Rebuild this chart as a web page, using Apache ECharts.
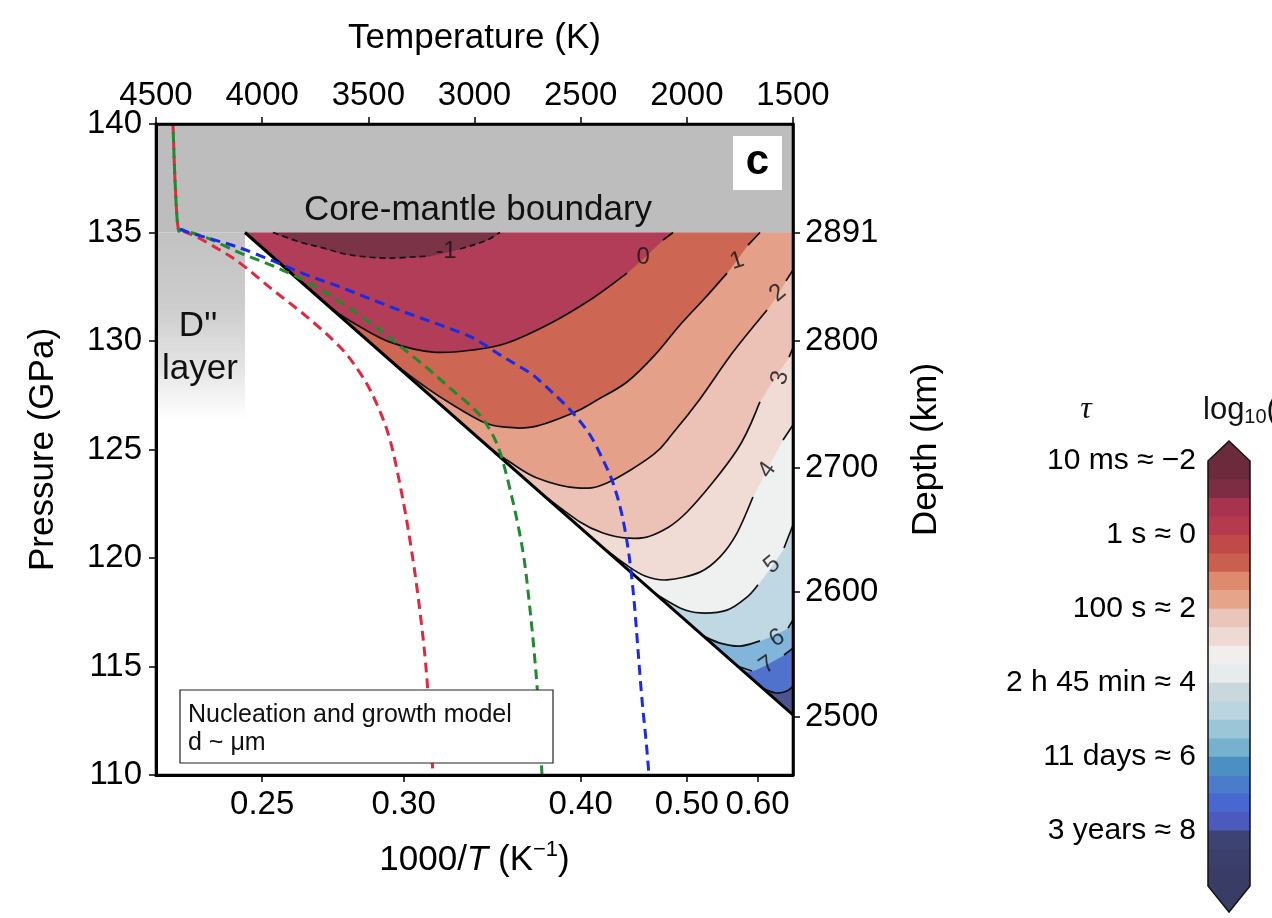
<!DOCTYPE html>
<html>
<head>
<meta charset="utf-8">
<script src="https://cdn.jsdelivr.net/npm/echarts@6/dist/echarts.min.js"></script>
<style>
  html, body { margin: 0; padding: 0; background: #ffffff; }
  #chart { width: 1272px; height: 918px; }
</style>
</head>
<body>
<div id="chart"></div>
<script>
// ---------------- axis ticks ----------------
const tempTicks = [4500, 4000, 3500, 3000, 2500, 2000, 1500];        // K, top axis
const invTempTicks = [0.25, 0.30, 0.40, 0.50, 0.60];                  // 1000/T, bottom axis
const depthTicks = [2891, 2800, 2700, 2600, 2500];                    // km, right axis
const depthTickPressure = [135, 130, 124.15, 118.43, 112.67];         // GPa at those depths
const cbTickValues = [-2, 0, 2, 4, 6, 8];
const cbTickLabels = ['10 ms \u2248 \u22122', '1 s \u2248 0', '100 s \u2248 2',
                      '2 h 45 min \u2248 4', '11 days \u2248 6', '3 years \u2248 8'];

// ---------------- regions (T in K, P in GPa) ----------------
const cmbPressure = 135;
const plotFrame = [[4500, 140], [1500, 140], [1500, 110], [4500, 110]];
const cmbRegion = [[4500, 140], [1500, 140], [1500, 135], [4500, 135]];
const dppRegion = [[4500, 135], [4081, 135], [4081, 126.4], [4500, 126.4]];
const diagonal = [[4081, 135], [1500, 112.77]];

// ---------------- log10(tau) contours (null = label gap) ----------------
const contourM1 = [[3949, 135], [3822, 134.56], [3714, 134.29], [3610, 134.01], [3506, 133.87],
  [3398, 133.82], [3290, 133.87], [3210, 133.92], null, [3068, 134.24], [3007, 134.42], [2941, 134.65], [2880, 135]];
const contour0 = [[3774.7, 132.34], [3657, 131.38], [3553.4, 130.74], [3398, 129.95], [3195.4, 129.49],
  [3007.1, 129.59], [2846.9, 129.91], [2630.3, 130.88], [2441.9, 131.98], [2281.8, 133.13], null,
  [2112.2, 134.65], [2065.1, 135]];
const contour1 = [[3374.4, 128.92], [3223.7, 127.83], [3101.3, 127.05], [2960, 126.27], [2865.8, 126.04],
  [2724.5, 126.04], [2536.1, 126.68], [2423.1, 127.28], [2281.8, 128.11], [2149.9, 129.36], [2032.2, 130.74],
  [1914.4, 131.98], [1810.8, 133.13], null, [1711.9, 134.42], [1655.4, 135]];
const contour2 = [[2941.1, 125.16], [2832.8, 124.42], [2705.6, 123.69], [2517.3, 123.23], [2376, 123.46],
  [2159.3, 124.75], [2065.1, 125.76], [1938, 127.33], [1782.6, 129.49], [1622.4, 131.43], null,
  [1533, 132.77], [1500, 133.27]];
const contour3 = [[2691.5, 123.02], [2503.1, 121.66], [2394.8, 121.15], [2281.8, 120.92], [2159.3, 121.06],
  [1999.2, 122.12], [1763.7, 124.98], [1655.4, 127.19], null, [1518.8, 129.26], [1500, 129.68]];
const contour4 = [[2408.9, 120.59], [2291.2, 119.72], [2197, 119.17], [2093.4, 118.99], [1938, 119.35],
  [1843.8, 120.05], [1763.7, 121.15], [1688.4, 122.81], null, [1547.1, 125.44], [1500, 126.13]];
const contour5 = [[2149.9, 118.36], [2032.2, 117.7], [1938, 117.47], [1810.8, 117.6], [1716.6, 118.2],
  [1664.8, 118.76], null, [1542.4, 120.46], [1500, 121.52]];
const contour6 = [[1923.8, 116.41], [1843.8, 116.08], [1749.6, 115.94], [1655.4, 116.18], null,
  [1523.6, 116.77], [1500, 117.14]];
const contour7 = [[1763.7, 115.02], [1693.1, 114.79], null, [1542.4, 115.53], [1500, 115.85]];
const contour8 = [[1641.3, 113.98], [1580.1, 113.78], [1528.2, 113.87], [1500, 114.1]];
const contourLevels = [-1, 0, 1, 2, 3, 4, 5, 6, 7, 8];

const contourLabelText = ['-1', '0', '1', '2', '3', '4', '5', '6', '7'];
const contourLabelPos = [[3134, 134.15], [2206, 133.87], [1764, 133.69], [1571, 132.21], [1561, 128.3],
  [1622, 124.06], [1599, 119.68], [1575, 116.3], [1622, 115.07]];
const contourLabelAngle = [0, 0, 18, 40, 75, 55, 40, 30, 35];

// ---------------- phase-boundary paths (dashed) ----------------
const redPath = [[4420, 140], [4410.5, 137.42], [4396.4, 135.25], [4372.8, 135.07], [4306.9, 134.79],
  [4198.6, 134.19], [4104.4, 133.59], [3949, 132.35], [3788.9, 131.11], [3633.4, 129.72], [3539.2, 128.53],
  [3468.6, 127.28], [3398, 125.44], [3336.8, 122.67], [3289.6, 119.91], [3252, 117.14], [3223.7, 114.38],
  [3195.4, 110]];
const greenPath = [[4420, 140], [4410.5, 137.42], [4396.4, 135.25], [4372.8, 135.11], [4259.8, 134.75],
  [4104.4, 134.06], [3949, 133.46], [3788.9, 132.72], [3633.4, 131.8], [3478, 130.74], [3350.9, 129.77],
  [3223.7, 128.76], [3115.4, 127.83], [3007.1, 126.91], [2941.1, 126.13], [2879.9, 124.88], [2818.7, 122.58],
  [2771.6, 120.28], [2743.3, 118.06], [2719.8, 115.76], [2700.9, 113.46], [2682.1, 110]];
const bluePath = [[4387, 135.16], [4339.9, 134.98], [4222.1, 134.65], [4104.4, 134.29], [3949, 133.69],
  [3788.9, 133.04], [3633.4, 132.49], [3478, 131.89], [3317.9, 131.29], [3162.5, 130.74], [3007.1, 130.14],
  [2879.9, 129.36], [2799.8, 128.89], [2724.5, 128.43], [2630.3, 127.6], [2536.1, 126.68], [2456, 125.67],
  [2394.8, 124.52], [2347.7, 123.46], [2305.3, 121.98], [2272.4, 120.14], [2248.8, 118.06], [2230, 115.76],
  [2211.1, 113.46], [2192.3, 111.61], [2178.2, 110]];

// ---------------- colour scale ----------------
const cbBounds = [-2, -1.5, -1, -0.5, 0, 0.5, 1, 1.5, 2, 2.5, 3, 3.5, 4, 4.5, 5, 5.5, 6, 6.5, 7, 7.5, 8, 8.5, 9, 9.5];
const cbColors = ['#6b2b3d', '#7c2d43', '#a8334e', '#b63a4d', '#c04a48', '#c9604f', '#de8a6c', '#e6a58b',
  '#eac5b9', '#efd9d3', '#f3eeee', '#e6ebee', '#c8d8dd', '#bad5df', '#9ac6d8', '#77b1d0', '#4b90c3',
  '#4a7ccc', '#4868cf', '#4a5bbd', '#3d4373', '#3a3f6b', '#393d66'];
// fill of each band: below -1, -1..0, 0..1, ..., 7..8, above 8
const bandColors = ['#7b3348', '#b23d58', '#cd6652', '#e4a088', '#ebc2b5', '#f1dcd5', '#eff1f1',
  '#bfd8e4', '#82b5da', '#5072cc', '#4c5590'];

const FONT = '"Liberation Sans", Arial, Helvetica, sans-serif';
const SERIF = '"Liberation Serif", "DejaVu Serif", serif';
const contours = [contourM1, contour0, contour1, contour2, contour3, contour4, contour5, contour6, contour7, contour8];

// ---------------- helpers ----------------
function solid(c) { return c.filter(p => p !== null); }
function segments(c) {
  const out = []; let cur = [];
  c.forEach(p => { if (p === null) { if (cur.length) out.push(cur); cur = []; } else cur.push(p); });
  if (cur.length) out.push(cur);
  return out;
}
// Catmull-Rom spline through pixel points, as SVG path data
function splinePath(px) {
  let d = 'M' + px[0][0] + ' ' + px[0][1];
  if (px.length === 2) return d + 'L' + px[1][0] + ' ' + px[1][1];
  for (let i = 0; i < px.length - 1; i++) {
    const p0 = px[i - 1] || px[i], p1 = px[i], p2 = px[i + 1], p3 = px[i + 2] || px[i + 1];
    const c1 = [p1[0] + (p2[0] - p0[0]) / 6, p1[1] + (p2[1] - p0[1]) / 6];
    const c2 = [p2[0] - (p3[0] - p1[0]) / 6, p2[1] - (p3[1] - p1[1]) / 6];
    d += 'C' + c1[0] + ' ' + c1[1] + ' ' + c2[0] + ' ' + c2[1] + ' ' + p2[0] + ' ' + p2[1];
  }
  return d;
}
function polyPath(px) {
  return 'M' + px.map(p => p[0] + ' ' + p[1]).join('L') + 'Z';
}

// filled bands, painted from the outermost region inwards
const fillLayers = [{ curve: [], edge: [[diagonal[0][0], cmbPressure], [1500, cmbPressure], diagonal[1]], color: bandColors[10] }];
for (let k = contours.length - 1; k >= 0; k--) {
  const pts = solid(contours[k]);
  const first = pts[0], last = pts[pts.length - 1];
  const edge = [];
  if (last[0] === 1500) edge.push([1500, cmbPressure]);
  if (first[1] !== cmbPressure) edge.push([diagonal[0][0], cmbPressure]);
  fillLayers.push({ curve: pts, edge: edge, color: bandColors[k] });
}

// contour line pieces
const lineItems = [];
contours.forEach((c, k) => segments(c).forEach(s => lineItems.push({ pts: s, dashed: contourLevels[k] < 0 })));

const dashedItems = [
  { pts: redPath, color: '#e2283f', offset: 0 },
  { pts: greenPath, color: '#1f8a2e', offset: 8 },
  { pts: bluePath, color: '#1a2be6', offset: 0 }
];

const chart = echarts.init(document.getElementById('chart'), null, { renderer: 'canvas' });

const axisText = { color: '#000', fontFamily: FONT, fontSize: 33 };
const nameText = { color: '#000', fontFamily: FONT, fontSize: 35 };
const bottomTickT = invTempTicks.map(v => 1000 / v);

const option = {
  animation: false,
  backgroundColor: '#ffffff',
  grid: [
    { left: 156, top: 124, width: 637, height: 651, containLabel: false },
    { left: 1208, top: 461, width: 42, height: 425, containLabel: false }
  ],
  xAxis: [
    {
      gridIndex: 0, type: 'value', min: 1500, max: 4500, inverse: true, position: 'bottom', z: 10,
      axisLine: { show: true, onZero: false, lineStyle: { color: '#000', width: 3 } },
      axisTick: { show: true, inside: false, length: 7, customValues: bottomTickT, lineStyle: { color: '#000', width: 1.5 } },
      axisLabel: Object.assign({ customValues: bottomTickT, margin: 13, formatter: v => (1000 / v).toFixed(2) }, axisText),
      splitLine: { show: false },
      name: '1000/{it|T} (K{sup|\u22121})', nameLocation: 'middle', nameGap: 64,
      nameTextStyle: Object.assign({
        rich: {
          it: { fontStyle: 'italic', fontFamily: FONT, fontSize: 35, color: '#000' },
          sup: { fontFamily: FONT, fontSize: 22, color: '#000', verticalAlign: 'top', padding: [0, 0, 20, 0] }
        }
      }, nameText)
    },
    {
      gridIndex: 0, type: 'value', min: 1500, max: 4500, inverse: true, position: 'top', z: 10,
      axisLine: { show: true, onZero: false, lineStyle: { color: '#000', width: 2.5 } },
      axisTick: { show: true, inside: false, length: 7, customValues: tempTicks, lineStyle: { color: '#000', width: 1.5 } },
      axisLabel: Object.assign({ customValues: tempTicks, margin: 12, formatter: v => String(Math.round(v)) }, axisText),
      splitLine: { show: false },
      name: 'Temperature (K)', nameLocation: 'middle', nameGap: 68, nameTextStyle: nameText
    },
    { gridIndex: 1, type: 'value', min: 0, max: 1, show: false }
  ],
  yAxis: [
    {
      gridIndex: 0, type: 'value', min: 110, max: 140, interval: 5, position: 'left', z: 10,
      axisLine: { show: true, onZero: false, lineStyle: { color: '#000', width: 3 } },
      axisTick: { show: true, inside: false, length: 7, lineStyle: { color: '#000', width: 1.5 } },
      axisLabel: Object.assign({ margin: 14 }, axisText),
      splitLine: { show: false },
      name: 'Pressure (GPa)', nameLocation: 'middle', nameGap: 95, nameTextStyle: nameText
    },
    {
      gridIndex: 0, type: 'value', min: 110, max: 140, position: 'right', z: 10,
      axisLine: { show: true, onZero: false, lineStyle: { color: '#000', width: 2.5 } },
      axisTick: { show: true, inside: false, length: 7, customValues: depthTickPressure, lineStyle: { color: '#000', width: 1.5 } },
      axisLabel: Object.assign({
        customValues: depthTickPressure, margin: 12,
        formatter: v => {
          let best = 0;
          depthTickPressure.forEach((p, i) => { if (Math.abs(p - v) < Math.abs(depthTickPressure[best] - v)) best = i; });
          return String(depthTicks[best]);
        }
      }, axisText),
      splitLine: { show: false },
      name: 'Depth (km)', nameLocation: 'middle', nameGap: 116, nameTextStyle: nameText
    },
    {
      gridIndex: 1, type: 'value', min: -2, max: 9.5, inverse: true, position: 'left',
      axisLine: { show: false }, axisTick: { show: false }, splitLine: { show: false },
      axisLabel: {
        customValues: cbTickValues, margin: 12, color: '#000', fontFamily: FONT, fontSize: 30,
        formatter: v => cbTickLabels[cbTickValues.indexOf(v)]
      }
    }
  ],
  series: [
    // colour-filled bands, core-mantle boundary and D'' shading
    {
      type: 'custom', coordinateSystem: 'cartesian2d', xAxisIndex: 0, yAxisIndex: 0, clip: true, silent: true, z: 1,
      data: fillLayers.map((_, i) => [i]).concat([[fillLayers.length], [fillLayers.length + 1]]),
      renderItem: (params, api) => {
        const i = params.dataIndex;
        if (i === fillLayers.length) {
          return { type: 'path', shape: { pathData: polyPath(cmbRegion.map(p => api.coord(p))) },
            style: { fill: '#bdbdbd', stroke: null } };
        }
        if (i === fillLayers.length + 1) {
          return { type: 'path', shape: { pathData: polyPath(dppRegion.map(p => api.coord(p))) },
            style: { stroke: null, fill: new echarts.graphic.LinearGradient(0, 0, 0, 1, [
              { offset: 0, color: '#c2c2c2' }, { offset: 0.4, color: '#cdcdcd' },
              { offset: 0.72, color: '#e4e4e4' }, { offset: 1, color: '#ffffff' }]) } };
        }
        const L = fillLayers[i];
        const cpx = L.curve.map(p => api.coord(p));
        const epx = L.edge.map(p => api.coord(p));
        const d = cpx.length
          ? splinePath(cpx) + epx.map(p => 'L' + p[0] + ' ' + p[1]).join('') + 'Z'
          : polyPath(epx);
        return { type: 'path', shape: { pathData: d }, style: { fill: L.color, stroke: L.color, lineWidth: 0.6 } };
      }
    },
    // contour lines
    {
      type: 'custom', coordinateSystem: 'cartesian2d', xAxisIndex: 0, yAxisIndex: 0, clip: true, silent: true, z: 3,
      data: lineItems.map((_, i) => [i]),
      renderItem: (params, api) => {
        const it = lineItems[params.dataIndex];
        return { type: 'path', shape: { pathData: splinePath(it.pts.map(p => api.coord(p))) },
          style: { fill: null, stroke: '#111', lineWidth: 1.7, lineDash: it.dashed ? [6, 4] : null } };
      }
    },
    // lower bound of the field
    {
      type: 'custom', coordinateSystem: 'cartesian2d', xAxisIndex: 0, yAxisIndex: 0, clip: true, silent: true, z: 4,
      data: [[0]],
      renderItem: (params, api) => {
        const a = api.coord(diagonal[0]), b = api.coord(diagonal[1]);
        return { type: 'line', shape: { x1: a[0], y1: a[1], x2: b[0], y2: b[1] },
          style: { stroke: '#000', lineWidth: 3 } };
      }
    },
    // dashed phase boundaries
    {
      type: 'custom', coordinateSystem: 'cartesian2d', xAxisIndex: 0, yAxisIndex: 0, clip: true, silent: true, z: 5,
      data: dashedItems.map((_, i) => [i]),
      renderItem: (params, api) => {
        const it = dashedItems[params.dataIndex];
        return { type: 'path', shape: { pathData: splinePath(it.pts.map(p => api.coord(p))) },
          style: { fill: null, stroke: it.color, lineWidth: 3, lineDash: [10, 6], lineDashOffset: it.offset } };
      }
    },
    // plot frame drawn above the shaded regions
    {
      type: 'custom', coordinateSystem: 'cartesian2d', xAxisIndex: 0, yAxisIndex: 0, clip: false, silent: true, z: 7,
      data: [[0]],
      renderItem: (params, api) => {
        const px = plotFrame.map(p => api.coord(p));
        return { type: 'path', shape: { pathData: polyPath(px) },
          style: { fill: null, stroke: '#000', lineWidth: 2.6 } };
      }
    },
    // contour labels
    {
      type: 'scatter', xAxisIndex: 0, yAxisIndex: 0, z: 6, silent: true, symbolSize: 1,
      itemStyle: { color: 'rgba(0,0,0,0)' },
      data: contourLabelPos.map((p, i) => ({ value: p, label: { rotate: contourLabelAngle[i] } })),
      label: { show: true, position: 'inside', color: '#111', fontFamily: FONT, fontSize: 24,
        formatter: p => contourLabelText[p.dataIndex] }
    },
    // colour bar
    {
      type: 'custom', coordinateSystem: 'cartesian2d', xAxisIndex: 2, yAxisIndex: 2, clip: false, silent: true, z: 2,
      data: cbColors.map((_, i) => [i]).concat([[cbColors.length]]),
      renderItem: (params, api) => {
        const i = params.dataIndex;
        if (i < cbColors.length) {
          const a = api.coord([0, cbBounds[i]]), b = api.coord([1, cbBounds[i + 1]]);
          const shapes = [{ type: 'rect', shape: { x: a[0], y: a[1], width: b[0] - a[0], height: b[1] - a[1] + 0.5 },
            style: { fill: cbColors[i] } }];
          if (i === 0) {
            shapes.push({ type: 'polygon', shape: { points: [[a[0], a[1] + 0.5], [(a[0] + b[0]) / 2, a[1] - 20], [b[0], a[1] + 0.5]] },
              style: { fill: cbColors[0] } });
          }
          if (i === cbColors.length - 1) {
            shapes.push({ type: 'polygon', shape: { points: [[a[0], b[1] - 0.5], [(a[0] + b[0]) / 2, b[1] + 26], [b[0], b[1] - 0.5]] },
              style: { fill: cbColors[i] } });
          }
          return { type: 'group', children: shapes };
        }
        const t = api.coord([0, cbBounds[0]]), r = api.coord([1, cbBounds[cbBounds.length - 1]]);
        const mx = (t[0] + r[0]) / 2;
        return { type: 'polygon', z2: 10,
          shape: { points: [[t[0], t[1]], [mx, t[1] - 20], [r[0], t[1]], [r[0], r[1]], [mx, r[1] + 26], [t[0], r[1]]] },
          style: { fill: null, stroke: '#111', lineWidth: 1.5 } };
      }
    }
  ],
  graphic: [
    { type: 'text', z: 100, x: 478, y: 210, style: { text: 'Core-mantle boundary', fontFamily: FONT, fontSize: 35, fill: '#111', align: 'center', verticalAlign: 'middle' } },
    { type: 'text', z: 100, x: 198, y: 326, style: { text: "D''", fontFamily: FONT, fontSize: 35, fill: '#111', align: 'center', verticalAlign: 'middle' } },
    { type: 'text', z: 100, x: 200, y: 369, style: { text: 'layer', fontFamily: FONT, fontSize: 35, fill: '#111', align: 'center', verticalAlign: 'middle' } },
    { type: 'rect', z: 100, shape: { x: 733, y: 136, width: 49, height: 54 }, style: { fill: '#ffffff' } },
    { type: 'text', z: 101, x: 757.5, y: 162, style: { text: 'c', fontFamily: FONT, fontWeight: 'bold', fontSize: 42, fill: '#000', align: 'center', verticalAlign: 'middle' } },
    { type: 'rect', z: 100, shape: { x: 180, y: 690, width: 373, height: 73 }, style: { fill: '#ffffff', stroke: '#222', lineWidth: 1.2 } },
    { type: 'text', z: 101, x: 188, y: 715, style: { text: 'Nucleation and growth model', fontFamily: FONT, fontSize: 25, fill: '#111', align: 'left', verticalAlign: 'middle' } },
    { type: 'text', z: 101, x: 188, y: 743, style: { text: 'd ~ \u03bcm', fontFamily: FONT, fontSize: 25, fill: '#111', align: 'left', verticalAlign: 'middle' } },
    { type: 'text', z: 100, x: 1086, y: 410, style: { text: '\u03c4', fontFamily: SERIF, fontStyle: 'italic', fontSize: 32, fill: '#111', align: 'center', verticalAlign: 'middle' } },
    { type: 'text', z: 100, x: 1203, y: 410, style: {
        text: 'log{sub|10}({it|\u03c4})', fontFamily: FONT, fontSize: 31, fill: '#111', align: 'left', verticalAlign: 'middle',
        rich: {
          sub: { fontFamily: FONT, fontSize: 20, fill: '#111', verticalAlign: 'bottom', padding: [14, 0, 0, 0] },
          it: { fontFamily: SERIF, fontStyle: 'italic', fontSize: 33, fill: '#111' }
        } } }
  ]
};

chart.setOption(option);
</script>
</body>
</html>
